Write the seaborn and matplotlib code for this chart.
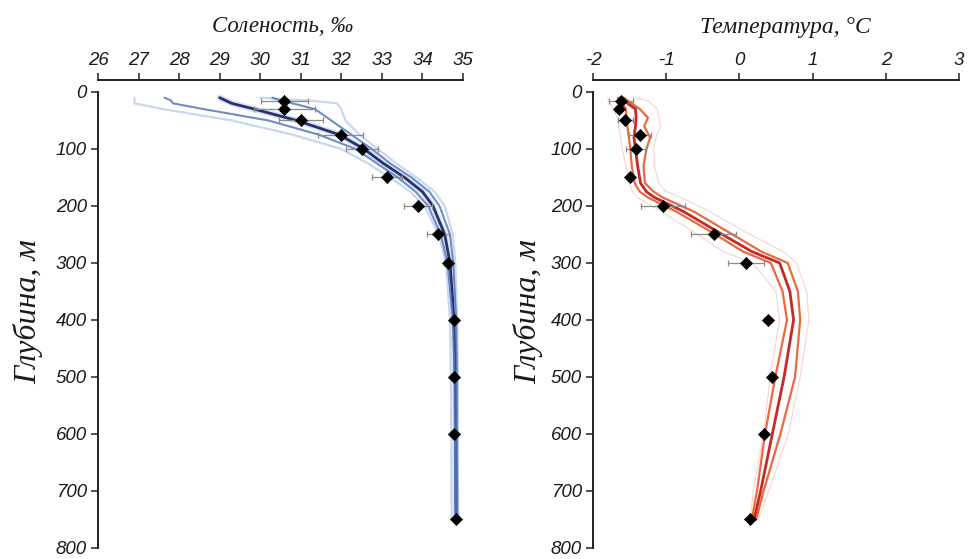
import numpy as np
import pandas as pd
import matplotlib
matplotlib.use("Agg")
import matplotlib.pyplot as plt
import seaborn as sns

sns.set_theme(style="ticks")
plt.rcParams["font.family"] = ["Liberation Sans Narrow", "Liberation Sans", "DejaVu Sans"]

# ---- salinity profiles (‰) ----
sal_depth = [10, 15, 20, 30, 50, 75, 100, 125, 150, 175, 200, 250, 300, 400, 500, 600, 750]
sal_mean = [29.0, 29.15, 29.3, 29.85, 30.9, 31.95, 32.56, 33.03, 33.56, 34.0, 34.26, 34.55, 34.68, 34.78, 34.81, 34.82, 34.83]
sal_sd_lo = [27.64, 27.8, 27.85, 28.6, 30.2, 31.45, 32.35, 32.87, 33.39, 33.83, 34.14, 34.45, 34.62, 34.75, 34.79, 34.80, 34.81]
sal_sd_hi = [30.3, 30.5, 30.8, 31.35, 31.75, 32.25, 32.75, 33.2, 33.73, 34.17, 34.42, 34.68, 34.76, 34.83, 34.85, 34.85, 34.86]
sal_min = [26.9, 26.9, 26.9, 27.6, 29.3, 30.8, 32.0, 32.65, 33.2, 33.7, 34.05, 34.4, 34.58, 34.68, 34.70, 34.71, 34.72]
sal_max = [30.0, 31.2, 31.9, 32.0, 32.1, 32.45, 32.9, 33.35, 33.85, 34.3, 34.55, 34.75, 34.81, 34.86, 34.87, 34.87, 34.88]

# ---- temperature profiles (°C) ----
tem_depth = [10, 15, 30, 45, 60, 80, 100, 130, 160, 175, 185, 210, 245, 280, 300, 350, 400, 500, 600, 700, 750]
tem_mean = [-1.62, -1.58, -1.42, -1.41, -1.42, -1.44, -1.42, -1.39, -1.35, -1.27, -1.16, -0.76, -0.30, 0.17, 0.55, 0.69, 0.74, 0.61, 0.45, 0.29, 0.20]
tem_sd_lo = [-1.66, -1.63, -1.55, -1.54, -1.53, -1.51, -1.49, -1.47, -1.43, -1.36, -1.25, -0.86, -0.39, 0.05, 0.43, 0.59, 0.65, 0.49, 0.35, 0.24, 0.17]
tem_sd_hi = [-1.58, -1.53, -1.36, -1.25, -1.30, -1.22, -1.27, -1.31, -1.29, -1.17, -1.05, -0.62, -0.16, 0.30, 0.66, 0.80, 0.83, 0.76, 0.56, 0.33, 0.23]
tem_min = [-1.80, -1.79, -1.72, -1.67, -1.65, -1.62, -1.60, -1.55, -1.50, -1.46, -1.40, -1.06, -0.63, -0.22, 0.18, 0.50, 0.55, 0.42, 0.33, 0.19, 0.15]
tem_max = [-1.45, -1.25, -1.12, -1.10, -1.08, -1.14, -1.17, -1.16, -1.10, -1.00, -0.80, -0.40, 0.07, 0.60, 0.78, 0.92, 0.95, 0.83, 0.67, 0.40, 0.26]

# ---- station observations with spread ----
obs_depth = [15, 30, 50, 75, 100, 150, 200, 250, 300, 400, 500, 600, 750]
obs_sal = [30.59, 30.59, 31.01, 31.98, 32.51, 33.13, 33.89, 34.38, 34.63, 34.79, 34.79, 34.79, 34.82]
obs_sal_err = [0.58, 0.75, 0.55, 0.55, 0.40, 0.37, 0.34, 0.28, 0.10, 0.0, 0.0, 0.0, 0.0]
obs_tem = [-1.62, -1.65, -1.56, -1.36, -1.41, -1.50, -1.04, -0.35, 0.09, 0.39, 0.45, 0.34, 0.14]
obs_tem_err = [0.16, 0.05, 0.10, 0.15, 0.14, 0.0, 0.30, 0.31, 0.25, 0.05, 0.0, 0.0, 0.0]

sal_ticks = list(range(26, 36))
tem_ticks = [-2, -1, 0, 1, 2, 3]
depth_ticks = list(range(0, 801, 100))

W, H = 970, 559
fig = plt.figure(figsize=(W / 100, H / 100), dpi=100)
fig.patch.set_facecolor("white")

def axes_px(x0, x1, y0, y1):
    return fig.add_axes([x0 / W, 1 - y1 / H, (x1 - x0) / W, (y1 - y0) / H])

ax_s = axes_px(98, 463, 80, 548)
ax_t = axes_px(593, 959, 80, 548)

serif = ["Liberation Serif", "DejaVu Serif"]

def draw_profiles(ax, depth, lines):
    for vals, color, lw, alpha in lines:
        df = pd.DataFrame({"v": vals, "z": depth})
        sns.lineplot(data=df, x="v", y="z", orient="y", sort=False, ax=ax,
                     color=color, lw=lw, alpha=alpha, estimator=None)

def draw_obs(ax, vals, errs):
    ax.errorbar(vals, obs_depth, xerr=errs, fmt="none", ecolor="#8a8a8a",
                elinewidth=0.9, capsize=2.5, capthick=0.9, zorder=4)
    sns.scatterplot(x=vals, y=obs_depth, ax=ax, marker="D", s=38, color="black",
                    edgecolor="black", zorder=5)

# salinity panel: envelope, mean, then ±SD on top
draw_profiles(ax_s, sal_depth, [
    (sal_min, "#c3d4ee", 1.6, 0.9),
    (sal_max, "#c3d4ee", 1.6, 0.9),
    (sal_mean, "#a9c2ea", 4.5, 0.45),
    (sal_mean, "#2b2f6e", 2.0, 1.0),
    (sal_sd_lo, "#5578bc", 1.5, 0.85),
    (sal_sd_hi, "#5578bc", 1.5, 0.85),
])
draw_obs(ax_s, obs_sal, obs_sal_err)

# temperature panel
draw_profiles(ax_t, tem_depth, [
    (tem_min, "#f7d4cd", 0.9, 0.9),
    (tem_max, "#f7d4cd", 0.9, 0.9),
    (tem_sd_lo, "#ea6a3e", 1.6, 1.0),
    (tem_sd_hi, "#ea6a3e", 1.6, 1.0),
    (tem_mean, "#c42a2a", 2.0, 1.0),
])
draw_obs(ax_t, obs_tem, obs_tem_err)

def style(ax, xlim, xticks):
    ax.set_xlim(*xlim)
    ax.set_ylim(800, -21)
    ax.set_xticks(xticks)
    ax.set_xticklabels([str(t) for t in xticks])
    ax.set_yticks(depth_ticks)
    ax.set_yticklabels([str(t) for t in depth_ticks])
    ax.xaxis.tick_top()
    ax.xaxis.set_label_position("top")
    for side in ("right", "bottom"):
        ax.spines[side].set_visible(False)
    ax.spines["top"].set_bounds(xlim[0], xlim[1])
    ax.spines["left"].set_bounds(0, 800)
    for side in ("top", "left"):
        ax.spines[side].set_linewidth(1.4)
        ax.spines[side].set_color("#222222")
    ax.tick_params(axis="both", direction="out", length=5, width=1.1, color="#222222",
                   labelsize=13.5, pad=3, labelcolor="#1a1a1a")
    for lab in ax.get_xticklabels() + ax.get_yticklabels():
        lab.set_fontstyle("italic")
    ax.set_xlabel("")
    ax.set_ylabel("")
    ax.set_facecolor("white")
    ax.grid(False)

style(ax_s, (26, 35), sal_ticks)
style(ax_t, (-2, 3), tem_ticks)

fig.text(283 / W, 1 - 27 / H, "Соленость, ‰", family=serif, style="italic",
         fontsize=16.5, ha="center", va="center", color="#1a1a1a")
fig.text(785 / W, 1 - 27 / H, "Температура, °C", family=serif, style="italic",
         fontsize=17, ha="center", va="center", color="#1a1a1a")
fig.text(28 / W, 1 - 312 / H, "Глубина, м", family=serif, style="italic",
         fontsize=23, ha="center", va="center", rotation=90, color="#1a1a1a")
fig.text(528 / W, 1 - 312 / H, "Глубина, м", family=serif, style="italic",
         fontsize=23, ha="center", va="center", rotation=90, color="#1a1a1a")

fig.savefig("out.png", dpi=100, facecolor="white")
